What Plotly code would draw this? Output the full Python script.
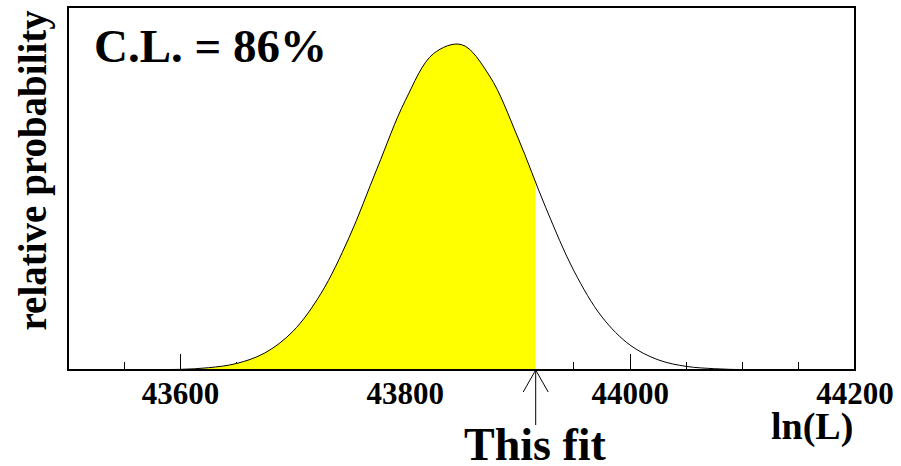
import plotly.graph_objects as go

# Likelihood distribution of ln(L) from toy experiments (relative probability)
LNL = [43500, 43525, 43550, 43575, 43600, 43625, 43650, 43675, 43700, 43725,
       43750, 43775, 43800, 43825, 43850, 43875, 43900, 43925, 43950, 43975,
       44000, 44025, 44050, 44075, 44100, 44125, 44150, 44175, 44200]
PROB = [0.000, 0.000, 0.000, 0.001, 0.002, 0.007, 0.020, 0.052, 0.118, 0.234,
        0.405, 0.617, 0.824, 0.967, 0.995, 0.899, 0.712, 0.496, 0.303, 0.162,
        0.076, 0.031, 0.011, 0.004, 0.001, 0.000, 0.000, 0.000, 0.000]

# ln(L) value obtained by the actual fit and the curve height there
FIT_LNL = 43916
FIT_PROB = 0.573
CL_TEXT = "C.L. = 86%"

X_RANGE = [43500, 44200]
X_TICKS = [43600, 43800, 44000, 44200]
X_TICKTEXT = [f"<b>{v}</b>" for v in X_TICKS]

FONT = "Liberation Serif, Times New Roman, serif"

fill_x = [x for x in LNL if x < FIT_LNL] + [FIT_LNL]
fill_y = [p for x, p in zip(LNL, PROB) if x < FIT_LNL] + [FIT_PROB]

fig = go.Figure()
fig.add_trace(go.Scatter(
    x=fill_x, y=fill_y, mode="lines", line=dict(width=0, shape="spline"),
    fill="tozeroy", fillcolor="#ffff00", hoverinfo="skip", showlegend=False))
fig.add_trace(go.Scatter(
    x=LNL, y=PROB, mode="lines", line=dict(color="black", width=1, shape="spline"),
    showlegend=False))

fig.update_layout(
    width=901, height=466,
    margin=dict(l=68, r=44, t=7, b=96),
    paper_bgcolor="white", plot_bgcolor="white",
    font=dict(family=FONT, color="black"),
    xaxis=dict(
        range=X_RANGE, tickvals=X_TICKS, ticktext=X_TICKTEXT,
        ticks="inside", ticklen=16, tickwidth=1,
        tickcolor="black", showgrid=False, zeroline=False, showline=False,
        layer="below traces", ticklabelstandoff=2,
        tickfont=dict(family=FONT, size=31, color="black"),
        minor=dict(dtick=50, tick0=43500, ticks="inside", ticklen=8, tickwidth=1,
                   tickcolor="black", showgrid=False),
    ),
    yaxis=dict(range=[0, 1.11], showticklabels=False, ticks="", showgrid=False,
               zeroline=False, showline=False),
)

# frame around the plot area
fig.add_shape(type="rect", xref="paper", yref="paper", x0=0, x1=1, y0=0, y1=1,
              line=dict(color="black", width=2), layer="above")

# arrow marking the fitted value
arrow = dict(xref="x", yref="paper", xsizemode="pixel", ysizemode="pixel",
             xanchor=FIT_LNL, yanchor=0, type="line", line=dict(color="black", width=1))
fig.add_shape(x0=0, x1=0, y0=0, y1=-55, **arrow)
fig.add_shape(x0=0, x1=-12.5, y0=0, y1=-22, **arrow)
fig.add_shape(x0=0, x1=12.5, y0=0, y1=-22, **arrow)

fig.add_annotation(x=FIT_LNL, xref="x", y=0, yref="paper", yanchor="top", yshift=-47,
                   text="<b>This fit</b>", showarrow=False,
                   font=dict(family=FONT, size=46))
fig.add_annotation(x=1, xref="paper", xanchor="right", y=0, yref="paper", yanchor="top",
                   yshift=-33, text="<b>ln(L)</b>", showarrow=False,
                   font=dict(family=FONT, size=38))
fig.add_annotation(x=0, xref="paper", xanchor="left", xshift=24, y=1, yref="paper",
                   yanchor="top", yshift=-11, text=f"<b>{CL_TEXT}</b>", showarrow=False,
                   font=dict(family=FONT, size=47))
fig.add_annotation(x=0, xref="paper", xanchor="center", xshift=-36, y=1, yref="paper",
                   yanchor="top", yshift=-1, text="<b>relative probability</b>",
                   textangle=-90, showarrow=False, font=dict(family=FONT, size=39))

fig.write_html("out.html")
